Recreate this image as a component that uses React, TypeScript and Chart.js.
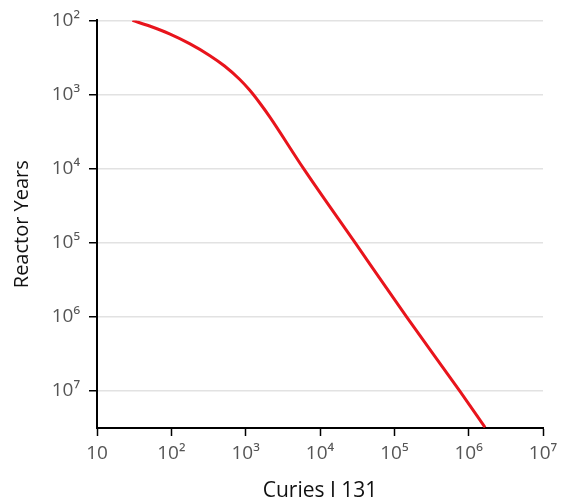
import React, { useEffect, useRef } from "react";
import { Chart, registerables } from "chart.js";

Chart.register(...registerables);

const curiesI131 = [30, 50.9, 94.6, 176, 327, 520, 828, 1129, 1539, 2097, 6018, 29650, 146200, 756800, 1660000];
const reactorYears = [100, 119, 152, 206, 297, 413, 623, 871, 1291, 1987, 10000, 100000, 1000000, 10000000, 31000000];
const xTickValues = [1e1, 1e2, 1e3, 1e4, 1e5, 1e6, 1e7];
const yTickValues = [1e2, 1e3, 1e4, 1e5, 1e6, 1e7];
const xTitle = "Curies I 131";
const yTitle = "Reactor Years";

const SUP = "⁰¹²³⁴⁵⁶⁷⁸⁹";
function powLabel(v: number): string {
  const e = Math.round(Math.log10(v));
  if (e === 1) return "10";
  return "10" + String(e).split("").map((d) => SUP[Number(d)]).join("");
}

export default function App() {
  const ref = useRef<HTMLCanvasElement | null>(null);
  useEffect(() => {
    if (!ref.current) return;
    const FONT = "'Open Sans', 'DejaVu Sans', sans-serif";
    const chart = new Chart(ref.current, {
      type: "line",
      data: {
        datasets: [
          {
            data: curiesI131.map((x, i) => ({ x, y: reactorYears[i] })),
            borderColor: "#e8141c",
            borderWidth: 3,
            pointRadius: 0,
            fill: false,
            cubicInterpolationMode: "monotone",
          },
        ],
      },
      options: {
        animation: false,
        responsive: false,
        maintainAspectRatio: false,
        layout: { padding: { top: 20, right: 22, left: 0, bottom: 0 } },
        plugins: { legend: { display: false }, tooltip: { enabled: false } },
        scales: {
          x: {
            type: "logarithmic",
            min: 10,
            max: 1e7,
            afterBuildTicks: (s: any) => {
              s.ticks = xTickValues.map((value) => ({ value }));
            },
            afterFit: (s: any) => {
              s.height = 76;
            },
            ticks: {
              callback: (v: any) => powLabel(Number(v)),
              color: "#555",
              font: { family: FONT, size: 19 },
              padding: 6,
              maxRotation: 0,
              autoSkip: false,
            },
            grid: { drawOnChartArea: false, tickColor: "#000", tickLength: 8, tickWidth: 1.5 },
            border: { color: "#000", width: 2 },
            title: {
              display: true,
              text: xTitle,
              color: "#111",
              font: { family: FONT, size: 21 },
              padding: { top: 0, bottom: 0 },
            },
          },
          y: {
            type: "logarithmic",
            reverse: true,
            min: 100,
            max: Math.pow(10, 7.5),
            afterBuildTicks: (s: any) => {
              s.ticks = yTickValues.map((value) => ({ value }));
            },
            afterFit: (s: any) => {
              s.width = 97;
            },
            ticks: {
              callback: (v: any) => powLabel(Number(v)),
              color: "#555",
              font: { family: FONT, size: 19 },
              padding: 9,
              autoSkip: false,
            },
            grid: { color: "#e2e2e2", lineWidth: 1.5, tickColor: "#000", tickLength: 8, tickWidth: 1.5 },
            border: { color: "#000", width: 2 },
            title: {
              display: true,
              text: yTitle,
              color: "#111",
              font: { family: FONT, size: 20 },
              padding: { top: 10, bottom: 0 },
            },
          },
        },
      },
    });
    return () => chart.destroy();
  }, []);
  return (
    <div style={{ position: "fixed", left: 0, top: 0, width: 565, height: 504, background: "#fff" }}>
      <canvas ref={ref} width={565} height={504} style={{ width: 565, height: 504 }} />
    </div>
  );
}
